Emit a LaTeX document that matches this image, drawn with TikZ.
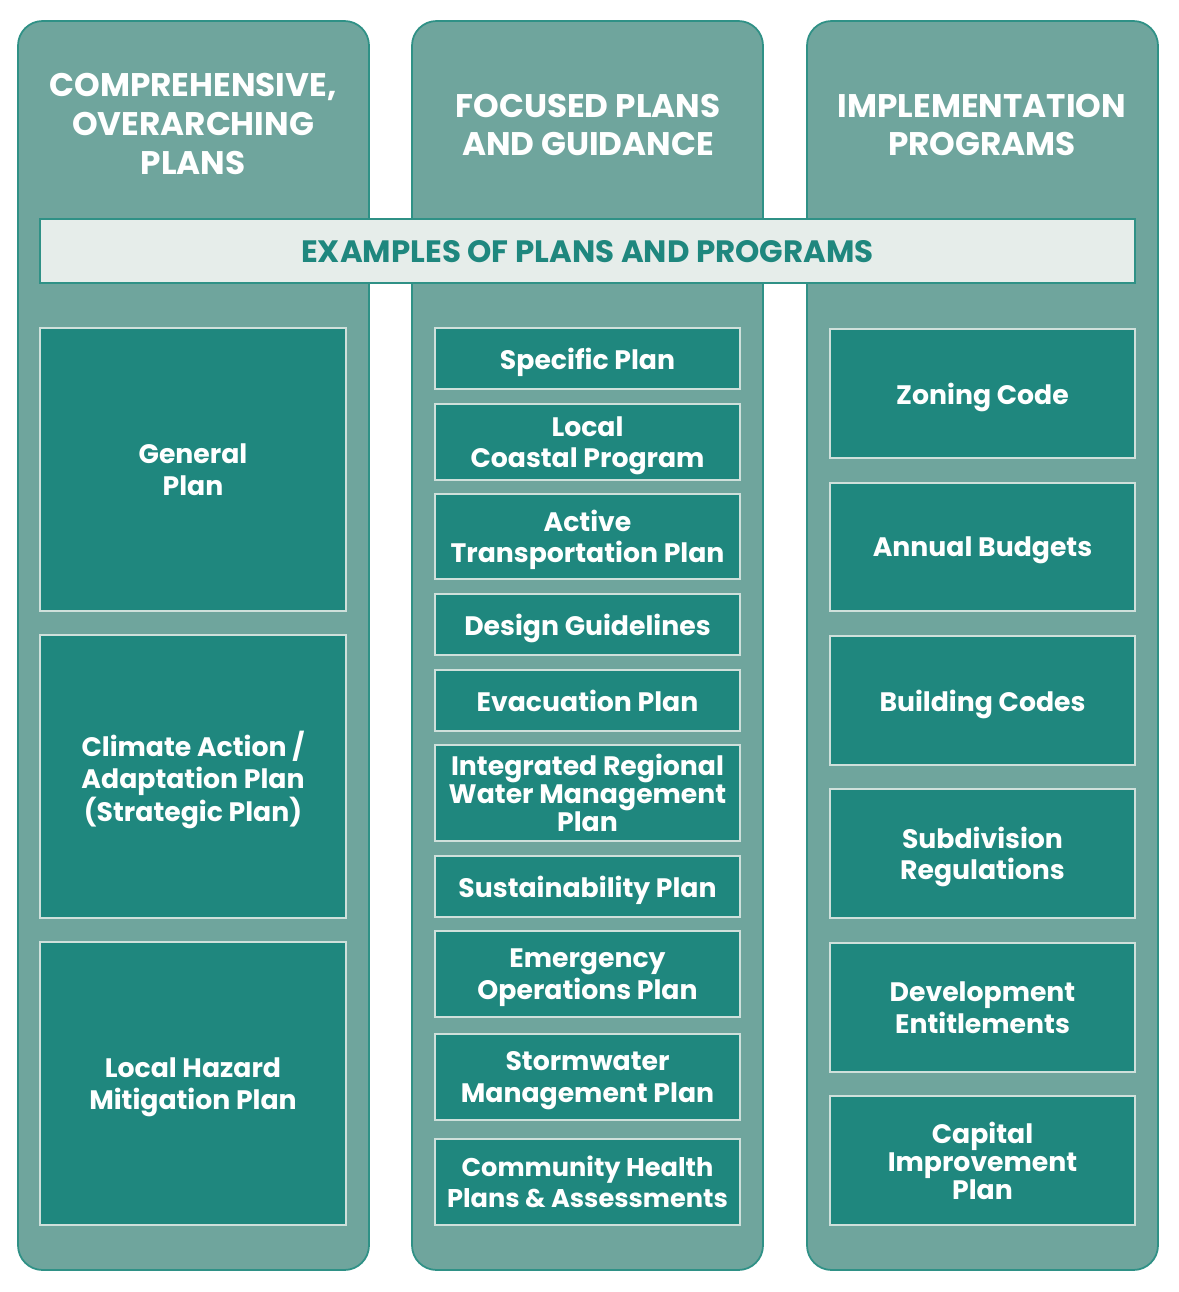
\documentclass[tikz,border=0pt]{standalone}
\usepackage{fontspec}
\setmainfont{Poppins}
\usetikzlibrary{positioning}
\definecolor{colbg}{HTML}{6FA59D}
\definecolor{colline}{HTML}{2F9186}
\definecolor{boxfill}{HTML}{1F877E}
\definecolor{boxline}{HTML}{CFE0DB}
\definecolor{bannerfill}{HTML}{E6EDEA}
\definecolor{bannertext}{HTML}{1F877E}

\tikzset{
  column/.style={draw=colline, fill=colbg, line width=1pt, rounded corners=14pt, inner sep=0pt},
  head/.style={text=white, font=\bfseries\fontsize{18.6}{22}\selectfont, align=center},
  banner/.style={draw=colline, fill=bannerfill, line width=0.9pt, text=bannertext, inner sep=0pt,
    text depth=0pt, font=\bfseries\fontsize{17.6}{20}\selectfont},
  plan/.style={draw=boxline, fill=boxfill, line width=1.1pt, text=white, align=center, inner sep=0pt,
    text depth=0pt, font=\bfseries\fontsize{15.2}{17.8}\selectfont},
  tight/.style={font=\bfseries\fontsize{15.2}{16}\selectfont}
}

\begin{document}
\begin{tikzpicture}[x=0.02cm, y=-0.02cm]
  \useasboundingbox (0,0) rectangle (1178,1292);

  % columns
  \node[column, minimum width=351*0.02cm, minimum height=1249*0.02cm] (compcol) at (193.5,645.5) {};
  \node[column, minimum width=351*0.02cm, minimum height=1249*0.02cm] (focuscol) at (587.5,645.5) {};
  \node[column, minimum width=351*0.02cm, minimum height=1249*0.02cm] (implcol) at (982.5,645.5) {};

  \node[head] (comphead) at (193,124) {COMPREHENSIVE,\\OVERARCHING\\PLANS};
  \node[head] (focushead) at (588,125) {FOCUSED PLANS\\AND GUIDANCE};
  \node[head] (implhead) at (982,125) {IMPLEMENTATION\\PROGRAMS};

  % banner across all three
  \node[banner, minimum width=1095*0.02cm, minimum height=64*0.02cm] (examples) at (587.5,251) {EXAMPLES OF PLANS AND PROGRAMS};

  % comprehensive plans
  \node[plan, minimum width=306*0.02cm, minimum height=283*0.02cm] (general) at (193,469.5) {General\\Plan};
  \node[plan, minimum width=306*0.02cm, minimum height=283*0.02cm] (climate) at (193,776.5) {Climate Action /\\Adaptation Plan\\(Strategic Plan)};
  \node[plan, minimum width=306*0.02cm, minimum height=283*0.02cm] (hazard) at (193,1083.5) {Local Hazard\\Mitigation Plan};

  % focused plans
  \node[plan, minimum width=305*0.02cm, minimum height=61*0.02cm] (specific) at (587.5,358.5) {Specific Plan};
  \node[plan, minimum width=305*0.02cm, minimum height=76*0.02cm] (coastal) at (587.5,442) {Local\\Coastal Program};
  \node[plan, minimum width=305*0.02cm, minimum height=85*0.02cm] (active) at (587.5,536.5) {Active\\Transportation Plan};
  \node[plan, minimum width=305*0.02cm, minimum height=61*0.02cm] (design) at (587.5,624.5) {Design Guidelines};
  \node[plan, minimum width=305*0.02cm, minimum height=61*0.02cm] (evac) at (587.5,700.5) {Evacuation Plan};
  \node[plan, tight, minimum width=305*0.02cm, minimum height=96*0.02cm] (water) at (587.5,793) {Integrated Regional\\Water Management\\Plan};
  \node[plan, minimum width=305*0.02cm, minimum height=61*0.02cm] (sustain) at (587.5,886.5) {Sustainability Plan};
  \node[plan, minimum width=305*0.02cm, minimum height=86*0.02cm] (emergency) at (587.5,974) {Emergency\\Operations Plan};
  \node[plan, minimum width=305*0.02cm, minimum height=86*0.02cm] (storm) at (587.5,1077) {Stormwater\\Management Plan};
  \node[plan, minimum width=305*0.02cm, minimum height=86*0.02cm, font=\bfseries\fontsize{14.6}{17.8}\selectfont] (health) at (587.5,1182) {Community Health\\Plans \& Assessments};

  % implementation programs
  \node[plan, minimum width=305*0.02cm, minimum height=129*0.02cm] (zoning) at (982.5,393.5) {Zoning Code};
  \node[plan, minimum width=305*0.02cm, minimum height=128*0.02cm] (budgets) at (982.5,547) {Annual Budgets};
  \node[plan, minimum width=305*0.02cm, minimum height=129*0.02cm] (building) at (982.5,700.5) {Building Codes};
  \node[plan, minimum width=305*0.02cm, minimum height=129*0.02cm] (subdiv) at (982.5,853.5) {Subdivision\\Regulations};
  \node[plan, minimum width=305*0.02cm, minimum height=129*0.02cm] (entitle) at (982.5,1007.5) {Development\\Entitlements};
  \node[plan, tight, minimum width=305*0.02cm, minimum height=129*0.02cm] (capital) at (982.5,1160.5) {Capital\\Improvement\\Plan};
\end{tikzpicture}
\end{document}
